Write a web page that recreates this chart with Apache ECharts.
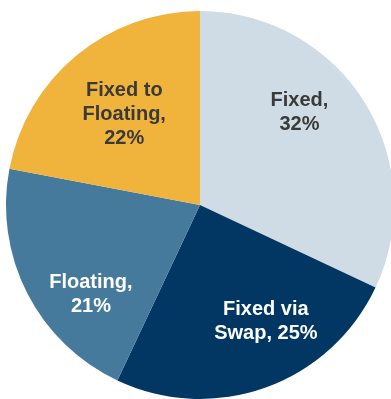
<!DOCTYPE html>
<html>
<head>
<meta charset="utf-8">
<script src="https://cdn.jsdelivr.net/npm/echarts@6/dist/echarts.min.js"></script>
<style>
html,body{margin:0;padding:0;background:#fff;}
#chart{width:391px;height:399px;}
</style>
</head>
<body>
<div id="chart"></div>
<script>
const categories = ['Fixed', 'Fixed via Swap', 'Floating', 'Fixed to Floating'];
const values = [32, 25, 21, 22];
const labelTexts = ['Fixed,\n32%', 'Fixed via\nSwap, 25%', 'Floating,\n21%', 'Fixed to\nFloating,\n22%'];
const colors = ['#cfdce5', '#023764', '#467a9c', '#f0b43c'];
const textColors = ['#3a3a3a', '#ffffff', '#ffffff', '#3a3a3a'];
const labelOffsets = [[15, -39], [32, 22], [-20, 44], [-12, -13]];

const chart = echarts.init(document.getElementById('chart'), null, {renderer: 'canvas'});
chart.setOption({
  animation: false,
  series: [{
    type: 'pie',
    center: [200, 205],
    radius: [0, 194],
    startAngle: 90,
    clockwise: true,
    label: {
      show: true,
      position: 'inside',
      fontFamily: 'Liberation Sans, Arial, sans-serif',
      fontWeight: 'bold',
      fontSize: 20,
      lineHeight: 24,
      align: 'center'
    },
    labelLine: {show: false},
    emphasis: {disabled: true},
    data: categories.map((c, i) => ({
      name: c,
      value: values[i],
      itemStyle: {color: colors[i]},
      label: {
        formatter: labelTexts[i],
        color: textColors[i],
        offset: labelOffsets[i]
      }
    }))
  }]
});
</script>
</body>
</html>
